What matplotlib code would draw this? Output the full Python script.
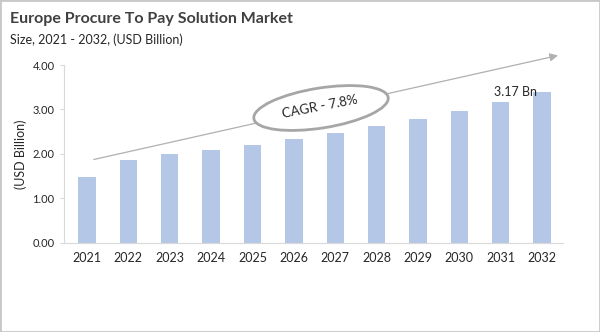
import matplotlib.pyplot as plt
from matplotlib.patches import Ellipse, Rectangle
from matplotlib.transforms import IdentityTransform

years = ['2021', '2022', '2023', '2024', '2025', '2026',
         '2027', '2028', '2029', '2030', '2031', '2032']
sizes = [1.49, 1.86, 2.00, 2.09, 2.20, 2.33, 2.47, 2.63, 2.78, 2.96, 3.17, 3.39]
yticks = [0, 1, 2, 3, 4]
label_2031 = '3.17 Bn'
cagr_text = 'CAGR - 7.8%'

plt.rcParams['font.family'] = ['Lato', 'DejaVu Sans']

fig = plt.figure(figsize=(6, 3.32), dpi=100)
ax = fig.add_axes([0.107, 0.269, 0.831, 0.535])

x = range(len(years))
ax.bar(x, sizes, width=0.42, color='#b4c7e7')
ax.set_xlim(-0.55, 11.5)
ax.set_ylim(0, 4)
ax.set_xticks(list(x))
ax.set_xticklabels(years, fontsize=9, color='#262626')
ax.set_yticks(yticks)
ax.set_yticklabels(['{:.2f}'.format(v) for v in yticks], fontsize=8, color='#262626')
ax.tick_params(axis='x', length=0, pad=7)
ax.tick_params(axis='y', length=3, color='#d9d9d9', pad=4)
for s in ['top', 'right']:
    ax.spines[s].set_visible(False)
ax.spines['left'].set_color('#d9d9d9')
ax.spines['bottom'].set_color('#d9d9d9')
ax.set_ylabel('(USD Billion)', fontsize=9, color='#262626', labelpad=4)

# tendance
ax.annotate('', xy=(11.45, 4.23), xytext=(0.1, 1.86),
            arrowprops=dict(arrowstyle='-|>', color='#b0b0b0', lw=0.9,
                            mutation_scale=12), annotation_clip=False)

# ellipse CAGR (en pixels)
ell = Ellipse((321, 224), 136, 40, angle=9, transform=IdentityTransform(),
              facecolor='white', edgecolor='#a6a6a6', lw=2, zorder=5)
fig.patches.append(ell)
fig.text(320 / 600, 225 / 332, cagr_text, rotation=11, ha='center', va='center',
         fontsize=9.5, color='#262626', zorder=6)

ax.text(10.35, sizes[10] + 0.08, label_2031, ha='center', va='bottom',
        fontsize=9, color='#262626')

fig.text(0.017, 0.93, 'Europe Procure To Pay Solution Market', fontsize=11.5,
         fontweight='bold', color='#404040')
fig.text(0.017, 0.868, 'Size, 2021 - 2032, (USD Billion)', fontsize=9,
         color='#262626')

fig.patches.append(Rectangle((0, 0), 1, 1, transform=fig.transFigure,
                             fill=False, edgecolor='#c8c8c8', lw=2))

fig.savefig('out.png', dpi=100)
